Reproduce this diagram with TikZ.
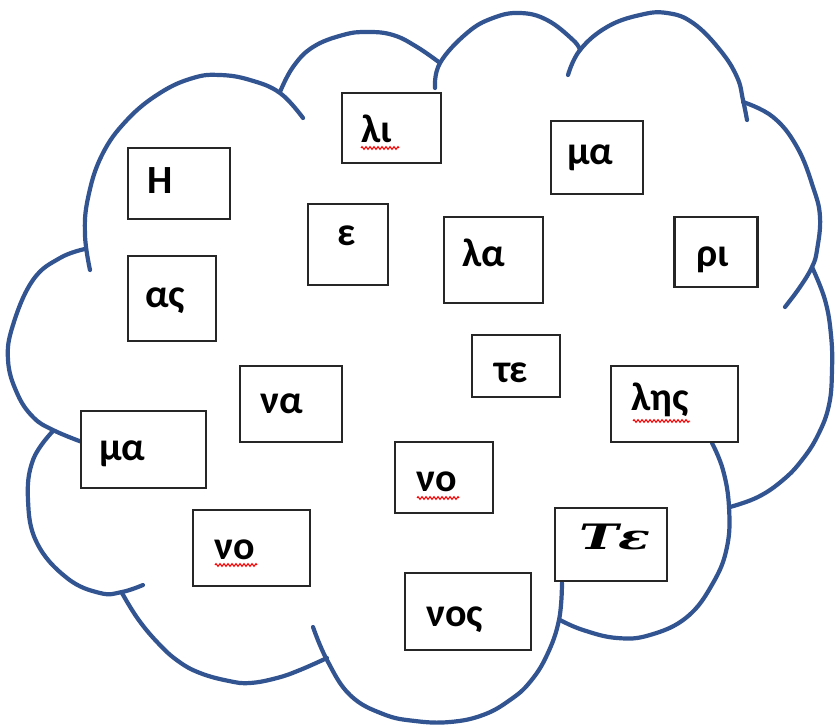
\documentclass[tikz,border=0pt]{standalone}
\usepackage{fontspec}
\usepackage{graphicx}
\setmainfont{Carlito}
\newfontfamily\tefont{DejaVu Serif}
\usetikzlibrary{decorations.pathmorphing}
\definecolor{cloudblue}{RGB}{50,84,145}
\tikzset{
  cloudline/.style={draw=cloudblue, line width=4.2pt, line cap=round},
  wbox/.style={draw=black!85, line width=2.3pt, fill=white, inner sep=0pt},
  txt/.style={font=\fontsize{40}{44}\selectfont\bfseries, anchor=base west, inner sep=0pt},
  tetxt/.style={font=\tefont\fontsize{35}{37}\selectfont\bfseries\itshape, anchor=base west, inner sep=0pt},
  squig/.style={draw=red, line width=1pt, decorate, decoration={zigzag, segment length=4pt, amplitude=1.4pt}}
}
\begin{document}
\begin{tikzpicture}[x=1pt,y=-1pt]
\useasboundingbox (0,0) rectangle (835,727);
% cloud lobes
\draw[cloudline] plot[smooth, tension=0.7] coordinates {(90,270) (85,235) (88,198) (102,155) (127,120) (160,93) (193,78) (220,75) (250,80) (280,93) (303,118)};
\draw[cloudline] plot[smooth, tension=0.7] coordinates {(280,92) (293,67) (313,47) (343,35) (367,32) (393,35) (417,47) (440,63)};
\draw[cloudline] plot[smooth, tension=0.7] coordinates {(435,88) (440,63) (467,33) (493,18) (520,13) (547,20) (573,40) (580,50)};
\draw[cloudline] plot[smooth, tension=0.7] coordinates {(568,75) (580,50) (607,27) (640,15) (667,13) (693,23) (720,50) (737,77) (743,100) (747,120)};
\draw[cloudline] plot[smooth, tension=0.7] coordinates {(743,102) (773,117) (797,147) (813,187) (820,217) (817,250) (812,267) (800,287) (785,307)};
\draw[cloudline] plot[smooth, tension=0.7] coordinates {(812,267) (825,300) (831,335) (832,370) (829,405) (818,435) (802,460) (783,480) (758,497) (730,507)};
\draw[cloudline] plot[smooth, tension=0.7] coordinates {(712,443) (723,470) (729,507) (727,547) (713,583) (687,617) (650,635) (617,638) (583,630) (560,620)};
\draw[cloudline] plot[smooth, tension=0.7] coordinates {(562,583) (559,620) (547,655) (530,682) (510,700) (483,715) (450,722) (415,721) (383,714) (350,695) (327,660) (313,627)};
\draw[cloudline] plot[smooth, tension=0.7] coordinates {(327,658) (300,670) (277,678) (250,683) (229,681) (200,673) (178,661) (158,643) (138,619) (122,593)};
\draw[cloudline] plot[smooth, tension=0.7] coordinates {(53,431) (33,460) (28,500) (37,543) (67,578) (100,593) (122,592) (143,585)};
\draw[cloudline] plot[smooth, tension=0.7] coordinates {(85,249) (60,258) (33,280) (13,325) (8,360) (17,393) (33,417) (53,430) (82,442)};
% boxes
\node[wbox, minimum width=102pt, minimum height=71pt] (bH) at (179,183.5) {};
\node[wbox, minimum width=88pt, minimum height=85pt] (bas) at (172,298.5) {};
\node[wbox, minimum width=99pt, minimum height=70pt] (bli) at (391.5,128) {};
\node[wbox, minimum width=80pt, minimum height=81pt] (be) at (348,244.5) {};
\node[wbox, minimum width=99pt, minimum height=86pt] (bla) at (493.5,260) {};
\node[wbox, minimum width=92pt, minimum height=73pt] (bma) at (597,157.5) {};
\node[wbox, minimum width=83pt, minimum height=70pt] (bri) at (716,252) {};
\node[wbox, minimum width=88pt, minimum height=62pt] (bte) at (516,366) {};
\node[wbox, minimum width=127pt, minimum height=76pt] (bles) at (674.5,404) {};
\node[wbox, minimum width=102pt, minimum height=76pt] (bna) at (291,404) {};
\node[wbox, minimum width=125pt, minimum height=77pt] (bma2) at (143.5,449.5) {};
\node[wbox, minimum width=98pt, minimum height=71pt] (bno) at (444,477.5) {};
\node[wbox, minimum width=117pt, minimum height=76pt] (bno2) at (251.5,548) {};
\node[wbox, minimum width=112pt, minimum height=73pt] (bTe) at (611,544.5) {};
\node[wbox, minimum width=126pt, minimum height=77pt] (bnos) at (468,611.5) {};
% texts
\node[txt] (tH) at (147,194) {Η};
\node[txt] (tas) at (145,308) {ας};
\node[txt] (tli) at (361,143) {λι};
\node[txt] (te) at (337,246) {ε};
\node[txt] (tla) at (462,267) {λα};
\node[txt] (tma) at (567,165) {μα};
\node[txt] (tri) at (696,267) {ρι};
\node[txt] (tte) at (494,382) {τε};
\node[txt] (tles) at (631,410) {λης};
\node[txt] (tna) at (260,413) {να};
\node[txt] (tma2) at (99,460) {μα};
\node[txt] (tno) at (416,491) {νο};
\node[txt] (tno2) at (214,559) {νο};
\node[tetxt] (tTe) at (579,549) {\scalebox{1.5}[1]{Τε}};
\node[txt] (tnos) at (426,626) {νος};
% spelling squiggles
\draw[squig] (361,148) -- (399,148);
\draw[squig] (633,421) -- (690,421);
\draw[squig] (417,498) -- (459,498);
\draw[squig] (215,565) -- (257,565);
\end{tikzpicture}
\end{document}
